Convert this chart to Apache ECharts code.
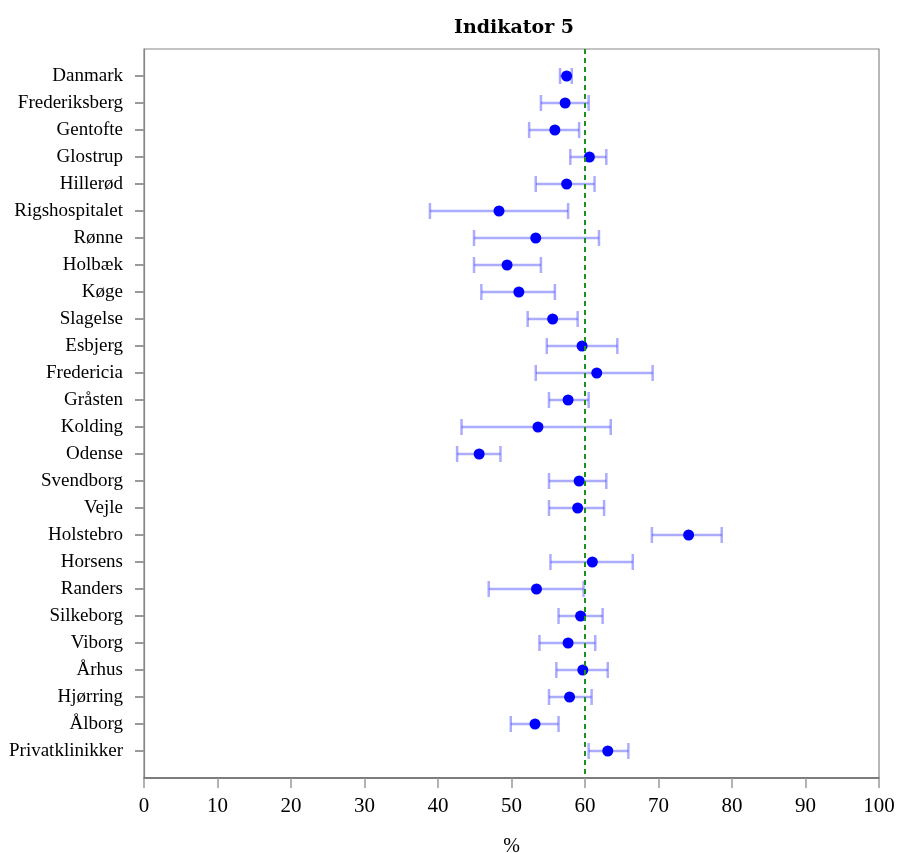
<!DOCTYPE html>
<html>
<head>
<meta charset="utf-8">
<script src="https://cdn.jsdelivr.net/npm/echarts@6/dist/echarts.min.js"></script>
<style>html,body{margin:0;padding:0;background:#fff}#c{width:899px;height:853px}</style>
</head>
<body>
<div id="c"></div>
<script>
var categories = ["Danmark","Frederiksberg","Gentofte","Glostrup","Hillerød","Rigshospitalet","Rønne","Holbæk","Køge","Slagelse","Esbjerg","Fredericia","Gråsten","Kolding","Odense","Svendborg","Vejle","Holstebro","Horsens","Randers","Silkeborg","Viborg","Århus","Hjørring","Ålborg","Privatklinikker"];
var estimate = [57.5,57.3,55.9,60.6,57.5,48.3,53.3,49.4,51.0,55.6,59.6,61.6,57.7,53.6,45.6,59.2,59.0,74.1,61.0,53.4,59.4,57.7,59.7,57.9,53.2,63.1];
var lower    = [56.6,54.0,52.4,58.0,53.3,38.9,44.9,44.9,45.9,52.2,54.8,53.3,55.1,43.2,42.6,55.1,55.1,69.1,55.3,46.9,56.4,53.8,56.1,55.1,49.9,60.5];
var upper    = [58.2,60.5,59.2,62.9,61.3,57.7,61.9,54.0,55.9,59.0,64.4,69.2,60.5,63.5,48.5,62.9,62.6,78.6,66.5,59.8,62.4,61.4,63.1,60.9,56.4,65.9];
var xTicks = [0,10,20,30,40,50,60,70,80,90,100];
var target = 60;
var titleText = "Indikator 5";
var xName = "%";

var rowPos = categories.map(function(c,i){return i+1;});
var ciData = categories.map(function(c,i){return [lower[i], upper[i], i+1];});
var ptData = categories.map(function(c,i){return [estimate[i], i+1];});

var chart = echarts.init(document.getElementById('c'), null, {renderer:'canvas'});
chart.setOption({
  animation:false,
  backgroundColor:'#fff',
  title:{text:titleText,left:509,textAlign:'center',top:14,textStyle:{fontFamily:'DejaVu Serif',fontWeight:'bold',fontSize:19,color:'#000'}},
  grid:{left:144,right:20,top:49,bottom:75,show:true,borderColor:'#888',borderWidth:1.2,containLabel:false,outerBoundsMode:'none'},
  xAxis:{type:'value',min:0,max:100,interval:10,
    axisLine:{show:true,onZero:false,lineStyle:{color:'#666',width:1.5}},
    axisTick:{show:true,length:10,lineStyle:{color:'#999',width:1.5}},
    axisLabel:{margin:18,fontFamily:'Liberation Serif',fontSize:21,color:'#000',customValues:xTicks},
    splitLine:{show:false},
    name:xName,nameLocation:'middle',nameGap:59,nameTextStyle:{fontFamily:'Liberation Serif',fontSize:20,color:'#000'}},
  yAxis:{type:'value',min:0,max:27,interval:1,inverse:true,
    axisLine:{show:true,onZero:false,lineStyle:{color:'#888',width:1.2}},
    axisTick:{show:true,length:9,customValues:rowPos,lineStyle:{color:'#999',width:2}},
    axisLabel:{margin:21,fontFamily:'Liberation Serif',fontSize:19,color:'#000',customValues:rowPos,
      formatter:function(v){return categories[Math.round(v)-1]||'';}},
    splitLine:{show:false}},
  series:[
    {type:'custom',data:ciData,z:2,
      renderItem:function(params,api){
        var p1=api.coord([api.value(0),api.value(2)]);
        var p2=api.coord([api.value(1),api.value(2)]);
        var st={stroke:'rgba(70,70,255,0.45)',lineWidth:2.5};
        return {type:'group',children:[
          {type:'line',shape:{x1:p1[0],y1:p1[1],x2:p2[0],y2:p2[1]},style:st},
          {type:'line',shape:{x1:p1[0],y1:p1[1]-8,x2:p1[0],y2:p1[1]+8},style:st},
          {type:'line',shape:{x1:p2[0],y1:p2[1]-8,x2:p2[0],y2:p2[1]+8},style:st}
        ]};
      },
      markLine:{silent:true,symbol:'none',label:{show:false},
        lineStyle:{color:'#1f8f1f',type:[5,4],width:2},
        data:[{xAxis:target}]}
    },
    {type:'scatter',data:ptData,symbol:'circle',symbolSize:11,z:3,itemStyle:{color:'#0000ff',opacity:1}}
  ]
});
</script>
</body>
</html>
